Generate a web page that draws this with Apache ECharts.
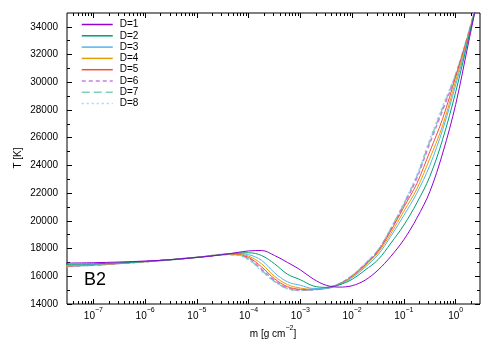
<!DOCTYPE html>
<html><head><meta charset="utf-8">
<script src="https://cdn.jsdelivr.net/npm/echarts@6/dist/echarts.min.js"></script>
<style>html,body{margin:0;padding:0;background:#fff}#c{width:500px;height:350px}</style>
</head><body><div id="c"></div>
<script>
// x values are log10(m / g cm^-2)
const log10_m = [-7.6,-7,-6.5,-6,-5.5,-5,-4.75,-4.5,-4.25,-4,-3.75,-3.5,-3.25,-3,-2.75,-2.5,-2.25,-2,-1.75,-1.5,-1.25,-1,-0.75,-0.5,-0.25,0,0.25,0.5];
const T_D1 = [16950,16980,17030,17100,17200,17360,17450,17560,17700,17830,17860,17500,17000,16460,15800,15350,15220,15320,15720,16450,17450,18650,20200,22100,24900,28400,32900,37400];
const T_D2 = [16850,16900,16970,17070,17200,17360,17460,17570,17670,17700,17500,16900,16150,15750,15300,15200,15380,15780,16450,17200,18400,19700,21300,23200,25900,29300,33200,37200];
const T_D3 = [16780,16850,16940,17060,17200,17365,17465,17575,17640,17560,17150,16250,15600,15350,15120,15120,15400,15900,16650,17550,18900,20400,22000,24000,26600,29800,33300,37100];
const T_D4 = [16750,16830,16930,17055,17200,17368,17468,17578,17610,17450,16900,16000,15400,15150,15060,15120,15420,15960,16750,17700,19100,20700,22300,24500,26900,30100,33400,37000];
const T_D5 = [16720,16815,16925,17052,17200,17369,17469,17580,17590,17360,16680,15820,15250,15060,15040,15140,15440,16000,16820,17800,19300,21000,22700,25000,27400,30400,33500,37000];
const T_D6 = [16710,16805,16922,17051,17200,17370,17470,17580,17570,17290,16520,15700,15160,15010,15030,15150,15450,16030,16870,17860,19400,21150,23100,25600,28000,30500,33550,37000];
const T_D7 = [16705,16800,16920,17050,17200,17370,17470,17580,17560,17230,16440,15640,15120,14990,15030,15160,15460,16040,16890,17880,19450,21230,23200,25750,28150,30550,33580,37000];
const T_D8 = [16700,16800,16920,17050,17200,17370,17470,17580,17540,17180,16380,15600,15100,14980,15030,15170,15470,16050,16900,17900,19500,21300,23300,25900,28300,30600,33600,37000];
const seriesNames = ['D=1','D=2','D=3','D=4','D=5','D=6','D=7','D=8'];
const xTickExponents = [-7,-6,-5,-4,-3,-2,-1,0];
const yTickLabels = [14000,16000,18000,20000,22000,24000,26000,28000,30000,32000,34000];
const yMinorTicks = [15000,17000,19000,21000,23000,25000,27000,29000,31000,33000];

const allT = [T_D1,T_D2,T_D3,T_D4,T_D5,T_D6,T_D7,T_D8];
const colors = ['#9400d3','#009e73','#56b4e9','#e69f00','#f0503a','#c87de8','#80cfb9','#a6d8f4'];
const dashes = ['solid','solid','solid','solid','solid',[4,3],[8,4],[2,3]];
const widths = [1,1,1,1,1,1.5,1.5,1.5];

const xMinor = [];
for (let n = -8; n <= 0; n++) for (let k = 2; k <= 9; k++) { const v = n + Math.log10(k); if (v > -7.51 && v < 0.47) xMinor.push(v); }

const FONT = '"Liberation Sans", Arial, sans-serif';
const XMIN = -7.51, XMAX = 0.47, YMIN = 14000, YMAX = 35000;
const sup = e => (e < 0 ? '\u2212' + Math.abs(e) : String(e));

function xAxisDef(pos, ticks, len, labels) {
  return {
    type: 'value', position: pos, min: XMIN, max: XMAX, gridIndex: 0,
    axisLine: {show: false, onZero: false}, splitLine: {show: false},
    axisTick: {show: true, inside: true, length: len, customValues: ticks, lineStyle: {color: '#000', width: 1}},
    axisLabel: labels ? {
      show: true, customValues: xTickExponents, margin: 3,
      formatter: v => '{b|10}{s|' + sup(Math.round(v)) + '}',
      rich: {
        b: {fontSize: 10, fontFamily: FONT, color: '#000', lineHeight: 14, verticalAlign: 'bottom'},
        s: {fontSize: 7, fontFamily: FONT, color: '#000', lineHeight: 7, verticalAlign: 'top'}
      }
    } : {show: false}
  };
}
function yAxisDef(pos, ticks, len, labels) {
  return {
    type: 'value', position: pos, min: YMIN, max: YMAX, gridIndex: 0,
    axisLine: {show: false, onZero: false}, splitLine: {show: false},
    axisTick: {show: true, inside: true, length: len, customValues: ticks, lineStyle: {color: '#000', width: 1}},
    axisLabel: labels ? {show: true, customValues: yTickLabels, margin: 9, fontSize: 10, fontFamily: FONT, color: '#000', formatter: v => String(Math.round(v))} : {show: false}
  };
}

const chart = echarts.init(document.getElementById('c'), null, {renderer: 'canvas'});
chart.setOption({
  animation: false,
  backgroundColor: '#fff',
  grid: {left: 67, right: 20, top: 13, bottom: 46, show: true, borderColor: '#000', borderWidth: 1, backgroundColor: 'transparent', containLabel: false},
  xAxis: [
    xAxisDef('bottom', xTickExponents, 5, true),
    xAxisDef('bottom', xMinor, 3, false),
    xAxisDef('top', xTickExponents, 5, false),
    xAxisDef('top', xMinor, 3, false)
  ],
  yAxis: [
    yAxisDef('left', yTickLabels, 5, true),
    yAxisDef('left', yMinorTicks, 3, false),
    yAxisDef('right', yTickLabels, 5, false),
    yAxisDef('right', yMinorTicks, 3, false)
  ],
  legend: {
    left: 81, top: 19, padding: 0, orient: 'vertical', itemWidth: 31, itemHeight: 11, itemGap: 0.3,
    itemStyle: {opacity: 0},
    lineStyle: {width: 1.5},
    textStyle: {fontSize: 10, fontFamily: FONT, color: '#000', lineHeight: 11, padding: [0,0,0,2]},
    data: seriesNames
  },
  series: seriesNames.map((name, i) => ({
    name, type: 'line', xAxisIndex: 0, yAxisIndex: 0,
    data: log10_m.map((x, j) => [x, allT[i][j]]),
    symbol: 'none', showSymbol: false, smooth: 0.35, clip: true,
    color: colors[i],
    lineStyle: {color: colors[i], width: widths[i], type: dashes[i]},
    z: 10 - i
  })),
  graphic: [
    {type: 'text', x: 18, y: 158, rotation: Math.PI / 2,
     style: {text: 'T [K]', fontSize: 10, fontFamily: FONT, fill: '#000', align: 'center', verticalAlign: 'middle'}},
    {type: 'text', x: 273, y: 332,
     style: {text: '{a|m [g cm}{s|\u22122}{a|]}', align: 'center', verticalAlign: 'middle',
       rich: {a: {fontSize: 10, fontFamily: FONT, fill: '#000', lineHeight: 14, verticalAlign: 'bottom'},
              s: {fontSize: 7, fontFamily: FONT, fill: '#000', lineHeight: 7, verticalAlign: 'top'}}}},
    {type: 'text', x: 84, y: 280,
     style: {text: 'B2', fontSize: 18, fontFamily: FONT, fill: '#000', align: 'left', verticalAlign: 'middle'}}
  ]
});
</script></body></html>
